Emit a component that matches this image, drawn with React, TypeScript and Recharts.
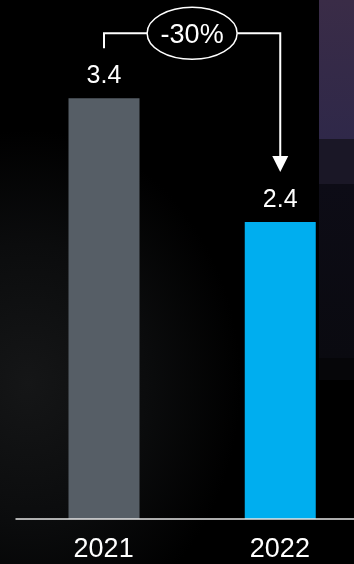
import * as React from "react";
import { Bar, BarChart, Cell, LabelList, XAxis, YAxis } from "recharts";

const years = ["2021", "2022"];
const values = [3.4, 2.4];
const barColors = ["#565e66", "#00aeef"];
const changeLabel = "-30%";

const W = 354;
const H = 564;
// plot runs a little past the right edge, like the original slide crop
const CHART_W = 368;
const MARGIN = { top: 24, right: 0, bottom: 0, left: 15.5 };
const FONT = '"Liberation Sans", Arial, sans-serif';

const data = years.map((year, i) => ({ year, value: values[i] }));
const bandW = (CHART_W - MARGIN.left - MARGIN.right) / years.length;

function YearTick({ x, y, payload }: any) {
  return (
    <text x={x} y={y + 38} textAnchor="middle" fill="#fff" fontSize={27} fontFamily={FONT}>
      {payload.value}
    </text>
  );
}

// bracket + arrow from the first bar to the last, drawn from the last bar's label slot
function ChangeBracket(props: any) {
  const { x, y, width, height, index } = props;
  if (index !== years.length - 1) return null;
  const pxPerUnit = height / values[index];
  const x1 = x + width / 2;
  const x0 = x1 - bandW * (years.length - 1);
  const top0 = y + height - values[0] * pxPerUnit;
  const level = top0 - 65;
  const start = top0 - 50;
  const tip = y - 50;
  const base = tip - 16;
  const cx = (x0 + x1) / 2;
  const rx = 45;
  const ry = 26;
  return (
    <g>
      <path
        d={`M${x0},${start} V${level} H${cx - rx} M${cx + rx},${level} H${x1} V${base}`}
        fill="none"
        stroke="#fff"
        strokeWidth={2}
      />
      <polygon points={`${x1 - 8},${base} ${x1 + 8},${base} ${x1},${tip}`} fill="#fff" />
      <ellipse cx={cx} cy={level} rx={rx} ry={ry} fill="#000" stroke="#fff" strokeWidth={1.5} />
      <text
        x={cx}
        y={level}
        dy="0.36em"
        textAnchor="middle"
        fill="#fff"
        fontSize={27}
        fontFamily={FONT}
      >
        {changeLabel}
      </text>
    </g>
  );
}

export default function App() {
  return (
    <div
      style={{
        position: "fixed",
        top: 0,
        left: 0,
        width: W,
        height: H,
        overflow: "hidden",
        background:
          "radial-gradient(ellipse 60% 45% at 8% 68%, #151617 0%, #0b0c0d 55%, #000 100%)",
      }}
    >
      <div style={{ position: "absolute", left: 319, top: 0, width: 35, height: 139, background: "linear-gradient(#3a2c47, #2f2849)" }} />
      <div style={{ position: "absolute", left: 319, top: 139, width: 35, height: 45, background: "#1a1726" }} />
      <div style={{ position: "absolute", left: 319, top: 184, width: 35, height: 174, background: "linear-gradient(#0d0c16, #0a0a10)" }} />
      <div style={{ position: "absolute", left: 319, top: 358, width: 35, height: 22, background: "#060609" }} />
      <BarChart width={CHART_W} height={H} data={data} margin={MARGIN} style={{ position: "absolute", top: 0, left: 0 }}>
        <YAxis hide domain={[0, 4]} />
        <XAxis
          dataKey="year"
          height={45}
          tickLine={false}
          tickSize={0}
          tickMargin={0}
          axisLine={{ stroke: "#e6e6e6", strokeWidth: 1.5 }}
          tick={<YearTick />}
          interval={0}
        />
        <Bar dataKey="value" barSize={71} isAnimationActive={false}>
          {data.map((d, i) => (
            <Cell key={d.year} fill={barColors[i]} />
          ))}
          <LabelList dataKey="value" position="top" offset={15} fill="#fff" fontSize={25} fontFamily={FONT} />
          <LabelList dataKey="value" content={<ChangeBracket />} />
        </Bar>
      </BarChart>
    </div>
  );
}
